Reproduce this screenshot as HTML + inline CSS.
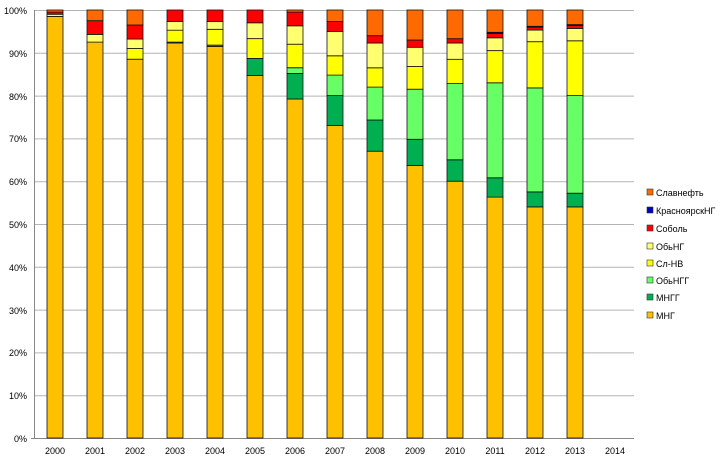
<!DOCTYPE html>
<html><head><meta charset="utf-8"><style>body{margin:0;background:#fff}svg{display:block}text{font-family:"Liberation Sans",sans-serif;font-size:9px;fill:#000}</style></head>
<body>
<svg id="s" width="720" height="460" xmlns="http://www.w3.org/2000/svg">
<g stroke="#b4b4b4" stroke-width="1">
<line x1="35" x2="634" y1="10.5" y2="10.5"/><line x1="35" x2="634" y1="53.3" y2="53.3"/><line x1="35" x2="634" y1="96.1" y2="96.1"/><line x1="35" x2="634" y1="138.9" y2="138.9"/><line x1="35" x2="634" y1="181.7" y2="181.7"/><line x1="35" x2="634" y1="224.5" y2="224.5"/><line x1="35" x2="634" y1="267.3" y2="267.3"/><line x1="35" x2="634" y1="310.1" y2="310.1"/><line x1="35" x2="634" y1="352.9" y2="352.9"/><line x1="35" x2="634" y1="395.7" y2="395.7"/>
</g>
<g stroke="#868686"><line x1="34.5" x2="34.5" y1="10" y2="438"/><line x1="31" x2="634" y1="438.5" y2="438.5"/></g>
<g id="bars"></g>
<g text-anchor="end">
<text x="27" y="14">100%</text><text x="27" y="57">90%</text><text x="27" y="100">80%</text><text x="27" y="142">70%</text><text x="27" y="185">60%</text><text x="27" y="228">50%</text><text x="27" y="271">40%</text><text x="27" y="314">30%</text><text x="27" y="356">20%</text><text x="27" y="399">10%</text><text x="27" y="442">0%</text>
</g>
<g text-anchor="middle">
<text x="55" y="454">2000</text><text x="95" y="454">2001</text><text x="135" y="454">2002</text><text x="175" y="454">2003</text><text x="215" y="454">2004</text><text x="255" y="454">2005</text><text x="295" y="454">2006</text><text x="335" y="454">2007</text><text x="375" y="454">2008</text><text x="415" y="454">2009</text><text x="455" y="454">2010</text><text x="495" y="454">2011</text><text x="535" y="454">2012</text><text x="575" y="454">2013</text><text x="615" y="454">2014</text>
</g>
<g stroke="#333" stroke-width="0.6">
<rect x="647" y="189" width="6" height="6" fill="#ff6a00"/>
<rect x="647" y="207" width="6" height="6" fill="#0000cc"/>
<rect x="647" y="225" width="6" height="6" fill="#ff0000"/>
<rect x="647" y="243" width="6" height="6" fill="#ffff70"/>
<rect x="647" y="260" width="6" height="6" fill="#ffff00"/>
<rect x="647" y="277" width="6" height="6" fill="#66ff66"/>
<rect x="647" y="294" width="6" height="6" fill="#00b050"/>
<rect x="647" y="312" width="6" height="6" fill="#ffc000"/>
</g>
<text x="656" y="196">Славнефть</text>
<text x="656" y="214">КрасноярскНГ</text>
<text x="656" y="232">Соболь</text>
<text x="656" y="250">ОбьНГ</text>
<text x="656" y="267">Сл-НВ</text>
<text x="656" y="284">ОбьНГГ</text>
<text x="656" y="301">МНГГ</text>
<text x="656" y="319">МНГ</text>
</svg>
<script>
var cols=["#ffc000","#00b050","#66ff66","#ffff00","#ffff70","#ff0000","#0000cc","#ff6a00"];
// cumulative tops: MNG, MNGG, ObNGG, SlNV, ObNG, Sobol, Krasn, Slavneft
var d=[
[98.5,98.5,98.5,98.5,99,99.5,99.5,100],
[92.5,92.5,92.5,92.5,94.3,97.5,97.5,100],
[88.5,88.5,88.5,91,93.2,96.5,96.5,100],
[92.3,92.5,92.5,95.3,97.3,100,100,100],
[91.5,91.8,91.8,95.5,97.3,100,100,100],
[84.7,88.7,88.7,93.3,97,100,100,100],
[79.2,85.2,86.5,92,96.3,99.5,99.5,100],
[73,80,84.8,89.3,95,97.3,97.3,100],
[67,74.3,82,86.5,92.3,94,94,100],
[63.7,69.8,81.5,86.8,91.3,93,93,100],
[60,65,82.8,88.5,92.3,93.3,93.3,100],
[56.3,60.8,83,90.5,93.5,94.5,94.8,100],
[54,57.5,81.8,92.6,95.3,96,96.2,100],
[54,57.2,80,92.8,95.7,96.4,96.6,100]];
var g=document.getElementById("bars"),h="";
function Y(p){return 438-p*4.28;}
d.forEach(function(r,i){var x=47+i*40,prev=0;
r.forEach(function(t,k){if(t-prev>0.01){var y1=Y(t),y0=Y(prev);
h+='<rect x="'+x+'" y="'+y1.toFixed(1)+'" width="16" height="'+(y0-y1).toFixed(1)+'" fill="'+cols[k]+'" stroke="#111" stroke-width="0.8"/>';}prev=t;});});
g.innerHTML=h;
</script>
</body></html>
